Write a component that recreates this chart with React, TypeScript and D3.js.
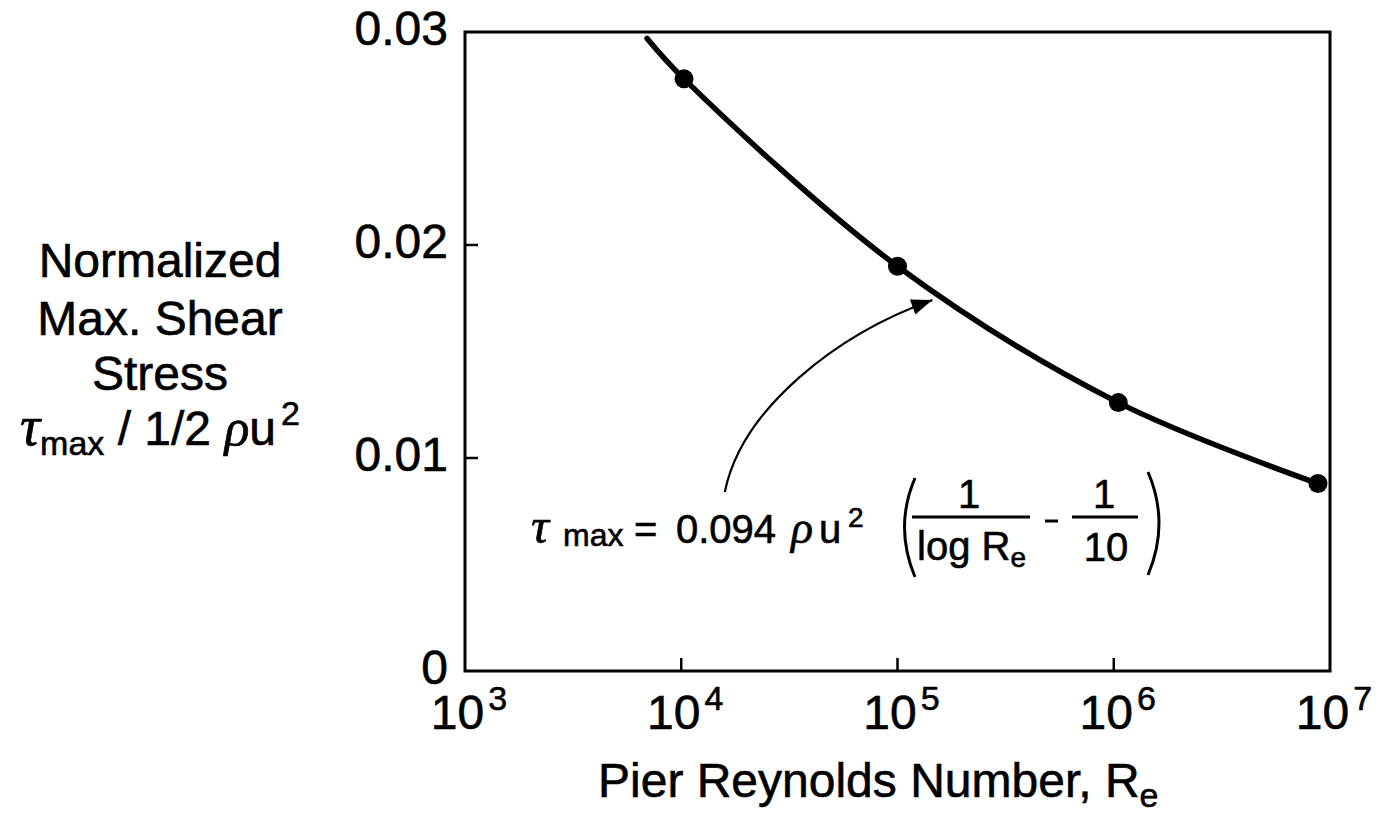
import React from "react";
import * as d3 from "d3";

// Pier Reynolds number vs. normalized maximum bed shear stress
const curveRe = [6950, 10300, 100000, 1050000, 8800000];
const curveTau = [0.0297, 0.0278, 0.019, 0.0126, 0.0088];

const pointRe = [10300, 100000, 1050000, 8800000];
const pointTau = [0.0278, 0.019, 0.0126, 0.0088];

const xTickValues = [1e3, 1e4, 1e5, 1e6, 1e7];
const xTickExponents = ["3", "4", "5", "6", "7"];
const yTickValues = [0, 0.01, 0.02, 0.03];
const yTickLabels = ["0", "0.01", "0.02", "0.03"];

// leader arrow from the equation to the curve, in data units
const arrowRe = [15900, 19000, 52000, 145000];
const arrowTau = [0.0084, 0.0123, 0.0158, 0.01742];

const W = 1392;
const H = 825;
const plot = { left: 465, right: 1330, top: 32, bottom: 671 };

const SANS = "'Liberation Sans', Arial, Helvetica, sans-serif";
const SERIF = "'Liberation Serif', 'Times New Roman', serif";
// slight outline to give the lettering a heavier weight
const INK = { stroke: "#000", strokeWidth: 0.6 };

export default function App() {
  const x = d3.scaleLog().domain([1e3, 1e7]).range([plot.left, plot.right]);
  const y = d3.scaleLinear().domain([0, 0.03]).range([plot.bottom, plot.top]);

  const curveData: [number, number][] = curveRe.map((r, i) => [r, curveTau[i]]);
  const line = d3
    .line<[number, number]>()
    .x((d) => x(d[0]))
    .y((d) => y(d[1]))
    .curve(d3.curveCatmullRom.alpha(0.5));

  const ax = arrowRe.map((r) => x(r));
  const ay = arrowTau.map((t) => y(t));
  const arrowPath = d3.path();
  arrowPath.moveTo(ax[0], ay[0]);
  arrowPath.bezierCurveTo(ax[1], ay[1], ax[2], ay[2], ax[3], ay[3]);
  // arrow head oriented along the end tangent
  const ang = Math.atan2(ay[3] - ay[2], ax[3] - ax[2]);
  const hl = 21;
  const hw = 8;
  const bx = ax[3] - hl * Math.cos(ang);
  const by = ay[3] - hl * Math.sin(ang);
  const head = [
    [ax[3], ay[3]],
    [bx + hw * Math.sin(ang), by - hw * Math.cos(ang)],
    [bx - hw * Math.sin(ang), by + hw * Math.cos(ang)],
  ]
    .map((p) => p.join(","))
    .join(" ");

  return (
    <div style={{ position: "absolute", left: 0, top: 0 }}>
      <svg width={W} height={H} style={{ display: "block", background: "#fff" }}>
        {/* y-axis title */}
        <g fontFamily={SANS} fontSize={48} fill="#000" textAnchor="middle" {...INK}>
          <text x={160} y={277}>Normalized</text>
          <text x={160} y={335}>Max. Shear</text>
          <text x={160} y={390}>Stress</text>
          <text x={160} y={445}>
            <tspan fontFamily={SERIF} fontStyle="italic" fontSize={56}>τ</tspan>
            <tspan fontSize={34} dy={10}>max</tspan>
            <tspan dy={-10}> / 1/2 </tspan>
            <tspan fontFamily={SERIF} fontStyle="italic" fontSize={52}>ρ</tspan>
            <tspan>u</tspan>
            <tspan fontSize={34} dy={-20} dx={5}>2</tspan>
          </text>
        </g>

        {/* frame */}
        <rect
          x={plot.left}
          y={plot.top}
          width={plot.right - plot.left}
          height={plot.bottom - plot.top}
          fill="none"
          stroke="#000"
          strokeWidth={3}
        />

        {/* x ticks and labels */}
        {xTickValues.map((v, i) => (
          <g key={"xt" + i}>
            {i > 0 && i < xTickValues.length - 1 && (
              <line x1={x(v)} x2={x(v)} y1={plot.bottom} y2={plot.bottom - 13} stroke="#000" strokeWidth={2.5} />
            )}
            <text x={x(v) + 4} y={729} textAnchor="middle" fontFamily={SANS} fontSize={48} fill="#000" {...INK}>
              10
              <tspan fontSize={34} dy={-19} dx={4}>{xTickExponents[i]}</tspan>
            </text>
          </g>
        ))}

        {/* y ticks and labels */}
        {yTickValues.map((v, i) => (
          <g key={"yt" + i}>
            {i > 0 && i < yTickValues.length - 1 && (
              <line x1={plot.left} x2={plot.left + 13} y1={y(v)} y2={y(v)} stroke="#000" strokeWidth={2.5} />
            )}
            <text x={448} y={y(v) + 13} textAnchor="end" fontFamily={SANS} fontSize={48} fill="#000" {...INK}>
              {yTickLabels[i]}
            </text>
          </g>
        ))}

        {/* fitted curve */}
        <path d={line(curveData) || ""} fill="none" stroke="#000" strokeWidth={5.5} strokeLinecap="round" />

        {/* measured points */}
        {pointRe.map((r, i) => (
          <circle key={"p" + i} cx={x(r)} cy={y(pointTau[i])} r={9.5} fill="#000" />
        ))}

        {/* leader arrow */}
        <path d={arrowPath.toString()} fill="none" stroke="#000" strokeWidth={2.2} />
        <polygon points={head} fill="#000" />

        {/* equation */}
        <g fontFamily={SANS} fontSize={40} fill="#000" {...INK}>
          <text x={531} y={543} fontFamily={SERIF} fontStyle="italic" fontSize={50}>τ</text>
          <text x={563} y={546} fontSize={32}>max</text>
          <text x={634} y={543}>=</text>
          <text x={676} y={543}>0.094</text>
          <text x={791} y={543} fontFamily={SERIF} fontStyle="italic" fontSize={46}>ρ</text>
          <text x={819} y={543}>u</text>
          <text x={848} y={527} fontSize={28}>2</text>

          <path d="M915,478 Q894,527 915,577" fill="none" stroke="#000" strokeWidth={3} />

          <line x1={912} x2={1030} y1={517} y2={517} stroke="#000" strokeWidth={3} />
          <text x={969} y={508} textAnchor="middle">1</text>
          <text x={917} y={560}>
            log R<tspan fontSize={28} dy={7}>e</tspan>
          </text>

          <line x1={1045} x2={1058} y1={521} y2={521} stroke="#000" strokeWidth={3} />

          <line x1={1072} x2={1138} y1={517} y2={517} stroke="#000" strokeWidth={3} />
          <text x={1104} y={508} textAnchor="middle">1</text>
          <text x={1106} y={561} textAnchor="middle">10</text>

          <path d="M1148,472 Q1170,523 1148,575" fill="none" stroke="#000" strokeWidth={3} />
        </g>

        {/* x-axis title */}
        <text x={598} y={797} fontFamily={SANS} fontSize={48} fill="#000" {...INK}>
          Pier Reynolds Number, R<tspan fontSize={34} dy={10}>e</tspan>
        </text>
      </svg>
    </div>
  );
}
